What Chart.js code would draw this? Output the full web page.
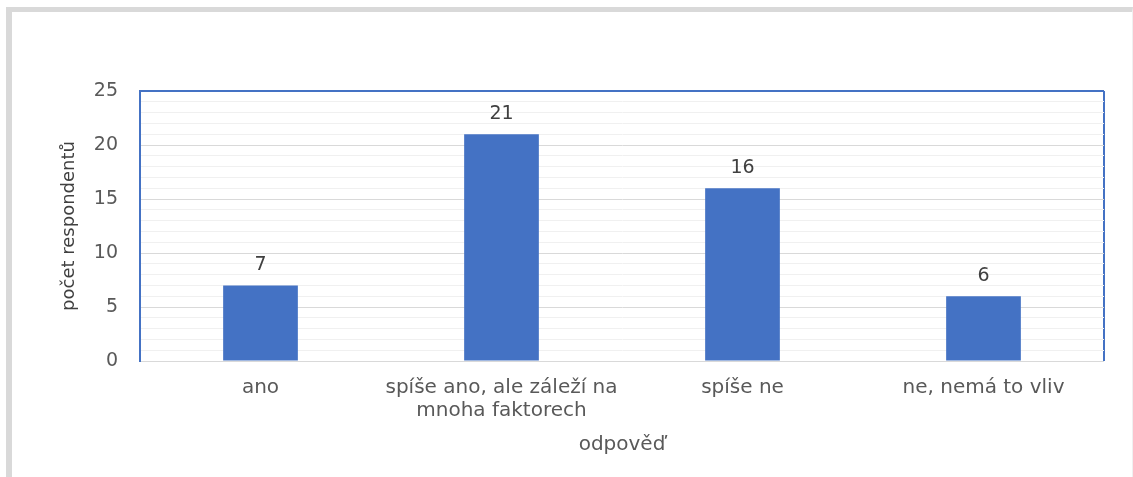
<!DOCTYPE html>
<html lang="cs">
<head>
<meta charset="utf-8">
<title>odpověď</title>
<script src="https://cdn.jsdelivr.net/npm/chart.js@4"></script>
<style>
  html, body { margin: 0; padding: 0; background: #fff; }
  body { width: 1133px; height: 477px; position: relative; overflow: hidden; }
  /* šedý rámeček kolem obrázku */
  #frame {
    position: absolute; left: 6px; top: 7px; right: 0; bottom: -10px;
    border-left: 6px solid #d9d9d9; border-top: 5px solid #d9d9d9; border-right: 1px solid #f0f0f0;
  }
  #wrap { position: absolute; left: 0; top: 0; width: 1133px; height: 477px; }
</style>
</head>
<body>
<div id="frame"></div>
<div id="wrap"><canvas id="chart"></canvas></div>
<script>
// data
const categories = [["ano"], ["spíše ano, ale záleží na", "mnoha faktorech"], ["spíše ne"], ["ne, nemá to vliv"]];
const respondents = [7, 21, 16, 6];
const yTitle = "počet respondentů";
const xTitle = "odpověď";

const blue = "#4472C4";
const textGray = "#595959";
Chart.defaults.font.family = '"DejaVu Sans", "Open Sans", sans-serif';

// popisky hodnot nad sloupci
const valueLabels = {
  id: "valueLabels",
  afterDatasetsDraw(chart) {
    const ctx = chart.ctx;
    const meta = chart.getDatasetMeta(0);
    ctx.save();
    ctx.font = '19px "DejaVu Sans", sans-serif';
    ctx.fillStyle = "#404040";
    ctx.textAlign = "center";
    ctx.textBaseline = "middle";
    meta.data.forEach((bar, i) => {
      ctx.fillText(String(respondents[i]), bar.x, bar.y - 20);
    });
    ctx.restore();
  }
};

new Chart(document.getElementById("chart"), {
  type: "bar",
  data: {
    labels: categories,
    datasets: [{
      data: respondents,
      backgroundColor: blue,
      categoryPercentage: 1,
      barPercentage: 0.31
    }]
  },
  options: {
    responsive: true,
    maintainAspectRatio: false,
    animation: false,
    layout: { padding: { top: 91, right: 29, left: 0, bottom: 0 } },
    plugins: { legend: { display: false }, tooltip: { enabled: false } },
    scales: {
      x: {
        afterFit: (scale) => { scale.height = 116; },
        border: { display: true, color: "#d9d9d9", width: 1 },
        grid: {
          display: true,
          drawTicks: false,
          // jen pravý okraj plochy grafu modře
          color: (ctx) => ctx.type === "scale" ? blue : "rgba(0,0,0,0)",
          lineWidth: (ctx) => ctx.type === "scale" ? 2 : 0
        },
        ticks: {
          color: textGray,
          font: { size: 20, lineHeight: 1.15 },
          padding: 15,
          maxRotation: 0,
          autoSkip: false
        },
        title: {
          display: true,
          text: xTitle,
          color: textGray,
          font: { size: 20, lineHeight: 1.2 },
          padding: { top: 0, bottom: 20 }
        }
      },
      y: {
        min: 0,
        max: 25,
        afterFit: (scale) => { scale.width = 140; },
        border: { display: true, color: blue, width: 2 },
        grid: {
          drawTicks: false,
          color: (ctx) => ctx.tick.value === 25 ? blue : (ctx.tick.value % 5 === 0 ? "#d9d9d9" : "#f0f0f0"),
          lineWidth: (ctx) => ctx.tick.value === 25 ? 2 : 1
        },
        ticks: {
          stepSize: 1,
          autoSkip: false,
          color: textGray,
          font: { size: 19 },
          padding: 22,
          callback: (v) => v % 5 === 0 ? v : ""
        },
        title: {
          display: true,
          text: yTitle,
          color: "#404040",
          font: { size: 18, lineHeight: 1.2 },
          padding: { top: 59, bottom: 0 }
        }
      }
    }
  },
  plugins: [valueLabels]
});
</script>
</body>
</html>
